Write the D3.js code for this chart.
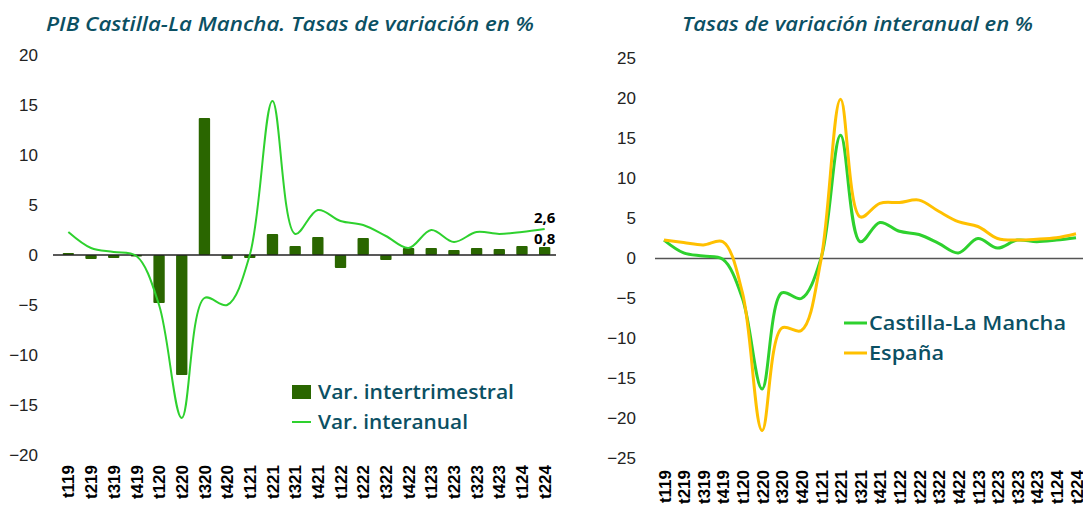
<!DOCTYPE html>
<html>
<head>
<meta charset="utf-8">
<script src="https://cdn.jsdelivr.net/npm/d3@7/dist/d3.min.js"></script>
<style>
body { margin: 0; background: #fff; }
svg { display: block; font-family: "Open Sans", sans-serif; }
</style>
</head>
<body>
<svg width="1083" height="508"></svg>
<script>
var quarters = ["t119","t219","t319","t419","t120","t220","t320","t420","t121","t221","t321",
                "t421","t122","t222","t322","t422","t123","t223","t323","t423","t124","t224"];

// PIB Castilla-La Mancha, var. intertrimestral
var clmQuarterly = [0.2,-0.4,-0.3,-0.15,-4.8,-12.0,13.7,-0.4,-0.3,2.1,0.9,
                    1.8,-1.3,1.7,-0.5,0.7,0.7,0.5,0.7,0.6,0.9,0.8];

// var. interanual
var clmYearly = [2.3,0.7,0.3,-0.1,-5.0,-16.3,-4.3,-5.0,0.0,15.4,2.1,
                 4.5,3.4,3.0,1.9,0.7,2.5,1.3,2.3,2.1,2.3,2.6];
var spainYearly = [2.3,2.0,1.7,2.1,-4.3,-21.5,-8.7,-9.0,-0.2,19.9,5.2,
                   6.9,7.0,7.3,5.9,4.6,4.0,2.5,2.3,2.4,2.6,3.1];

var leftTicks = [20,15,10,5,0,-5,-10,-15,-20];
var rightTicks = [25,20,15,10,5,0,-5,-10,-15,-20,-25];

var titleColor = "#0b5063";
var barColor = "#2a6600";
var clmColor = "#2ed12e";
var spainColor = "#ffc000";

var svg = d3.select("svg");

function fitText(sel, width)
{
    sel.attr("textLength", width).attr("lengthAdjust", "spacingAndGlyphs");
}

function drawXAxis(g, scale, y)
{
    var axis = g.append("g")
        .attr("transform", "translate(0," + y + ")")
        .call(d3.axisBottom(scale).tickSize(0));
    axis.select(".domain").remove();
    axis.selectAll("text")
        .attr("x", 0).attr("y", 0).attr("dy", "0.36em")
        .attr("transform", "rotate(-90)")
        .attr("text-anchor", "end")
        .style("font-size", "17px")
        .style("font-weight", "700")
        .attr("fill", "#000");
}

function drawYAxis(g, scale, ticks, x)
{
    var axis = g.append("g")
        .attr("transform", "translate(" + x + ",0)")
        .call(d3.axisLeft(scale).tickValues(ticks).tickSize(0).tickPadding(0));
    axis.select(".domain").remove();
    axis.selectAll("text")
        .style("font-size", "17px")
        .attr("fill", "#222");
}

function graphLeft()
{
    var g = svg.append("g");

    var x = d3.scaleBand().domain(quarters).range([57, 556]).paddingInner(0.5).paddingOuter(0.25);
    var y = d3.scaleLinear().domain([-20, 20]).range([455, 55]);

    //Title
    g.append("text")
        .attr("x", 46).attr("y", 31)
        .attr("fill", titleColor)
        .style("font-size", "20px").style("font-style", "italic").style("font-weight", "600")
        .text("PIB Castilla-La Mancha. Tasas de variación en %")
        .call(fitText, 488);

    drawYAxis(g, y, leftTicks, 38);
    drawXAxis(g, x, 465);

    //Bars
    g.selectAll("rect.bar")
        .data(clmQuarterly)
        .enter()
        .append("rect")
        .attr("class", "bar")
        .attr("x", function(d, i) { return x(quarters[i]); })
        .attr("y", function(d) { return y(Math.max(0, d)); })
        .attr("width", x.bandwidth())
        .attr("height", function(d) { return Math.abs(y(d) - y(0)); })
        .attr("rx", 1)
        .attr("fill", barColor);

    //Zero line
    g.append("line")
        .attr("x1", 53).attr("x2", 556)
        .attr("y1", y(0)).attr("y2", y(0))
        .attr("stroke", "#222").attr("stroke-width", 1.5);

    //Interanual line
    var line = d3.line()
        .x(function(d, i) { return x(quarters[i]) + x.bandwidth() / 2; })
        .y(function(d) { return y(d); })
        .curve(d3.curveCatmullRom.alpha(0.5));

    g.append("path")
        .datum(clmYearly)
        .attr("d", line)
        .attr("fill", "none")
        .attr("stroke", clmColor)
        .attr("stroke-width", 2);

    //Last values
    var last = quarters.length - 1;
    var lx = x(quarters[last]) + x.bandwidth() / 2;
    g.append("text")
        .attr("x", lx).attr("y", y(clmYearly[last]) - 6)
        .attr("text-anchor", "middle")
        .style("font-size", "15px").style("font-weight", "700")
        .text(d3.format(".1f")(clmYearly[last]).replace(".", ","));
    g.append("text")
        .attr("x", lx).attr("y", y(clmQuarterly[last]) - 3)
        .attr("text-anchor", "middle")
        .style("font-size", "15px").style("font-weight", "700")
        .text(d3.format(".1f")(clmQuarterly[last]).replace(".", ","));

    //Legend
    g.append("rect")
        .attr("x", 292).attr("y", 385).attr("width", 19).attr("height", 14)
        .attr("fill", barColor);
    g.append("text")
        .attr("x", 318).attr("y", 399)
        .attr("fill", titleColor)
        .style("font-size", "19px").style("font-weight", "600")
        .text("Var. intertrimestral")
        .call(fitText, 196);
    g.append("line")
        .attr("x1", 292).attr("x2", 311).attr("y1", 422).attr("y2", 422)
        .attr("stroke", clmColor).attr("stroke-width", 2);
    g.append("text")
        .attr("x", 318).attr("y", 429)
        .attr("fill", titleColor)
        .style("font-size", "19px").style("font-weight", "600")
        .text("Var. interanual")
        .call(fitText, 150);
}

function graphRight()
{
    var g = svg.append("g");

    var x = d3.scalePoint().domain(quarters).range([664, 1076]);
    var y = d3.scaleLinear().domain([-25, 25]).range([458.5, 58.5]);

    //Title
    g.append("text")
        .attr("x", 682).attr("y", 31)
        .attr("fill", titleColor)
        .style("font-size", "20px").style("font-style", "italic").style("font-weight", "600")
        .text("Tasas de variación interanual en %")
        .call(fitText, 351);

    drawYAxis(g, y, rightTicks, 636);
    drawXAxis(g, x, 470);

    //Zero line
    g.append("line")
        .attr("x1", 655).attr("x2", 1083)
        .attr("y1", y(0)).attr("y2", y(0))
        .attr("stroke", "#555").attr("stroke-width", 1.5);

    var line = d3.line()
        .x(function(d, i) { return x(quarters[i]); })
        .y(function(d) { return y(d); })
        .curve(d3.curveCatmullRom.alpha(0.5));

    g.append("path")
        .datum(clmYearly)
        .attr("d", line)
        .attr("fill", "none")
        .attr("stroke", clmColor)
        .attr("stroke-width", 3);

    g.append("path")
        .datum(spainYearly)
        .attr("d", line)
        .attr("fill", "none")
        .attr("stroke", spainColor)
        .attr("stroke-width", 3);

    //Legend
    var legend = [["Castilla-La Mancha", clmColor, 197], ["España", spainColor, 75]];
    legend.forEach(function(item, i)
    {
        g.append("line")
            .attr("x1", 844).attr("x2", 867)
            .attr("y1", 323 + i * 30).attr("y2", 323 + i * 30)
            .attr("stroke", item[1]).attr("stroke-width", 3);
        g.append("text")
            .attr("x", 869).attr("y", 330 + i * 30)
            .attr("fill", titleColor)
            .style("font-size", "19px").style("font-weight", "600")
            .text(item[0])
            .call(fitText, item[2]);
    });
}

graphLeft();
graphRight();
</script>
</body>
</html>
